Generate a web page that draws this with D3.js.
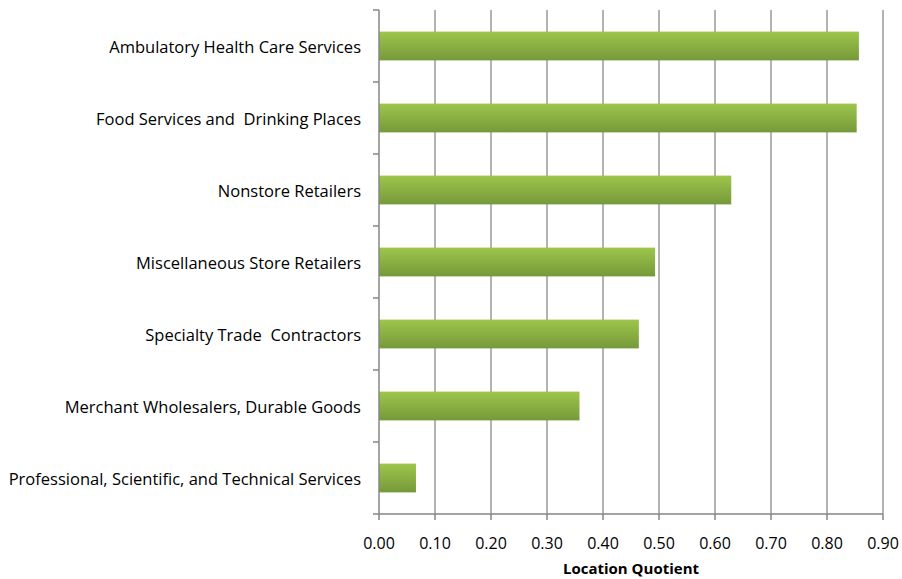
<!DOCTYPE html>
<html>
<head>
<meta charset="utf-8">
<script src="https://cdn.jsdelivr.net/npm/d3@7"></script>
<style>
  body { margin: 0; background: #fff; }
  text { font-family: "Open Sans", Lato, sans-serif; fill: #000; }
</style>
</head>
<body>
<svg id="chart" width="902" height="579"></svg>
<script>
// categories top to bottom
var categories = [
  "Ambulatory Health Care Services",
  "Food Services and  Drinking Places",
  "Nonstore Retailers",
  "Miscellaneous Store Retailers",
  "Specialty Trade  Contractors",
  "Merchant Wholesalers, Durable Goods",
  "Professional, Scientific, and Technical Services"
]
var values = [0.857, 0.853, 0.629, 0.493, 0.464, 0.358, 0.066]
var xTicks = [0, 0.1, 0.2, 0.3, 0.4, 0.5, 0.6, 0.7, 0.8, 0.9]
var xTitle = "Location Quotient"

var svg = d3.select("#chart")
var plotLeft = 379, plotRight = 883, plotTop = 10, plotBottom = 514

var x = d3.scaleLinear().domain([0, 0.9]).range([plotLeft, plotRight])
var y = d3.scaleBand().domain(categories).range([plotTop, plotBottom]).paddingInner(0.6).paddingOuter(0.3)

var defs = svg.append("defs")
var grad = defs.append("linearGradient").attr("id", "barGrad")
  .attr("x1", 0).attr("y1", 0).attr("x2", 0).attr("y2", 1)
grad.append("stop").attr("offset", "0%").attr("stop-color", "#9dc64b")
grad.append("stop").attr("offset", "100%").attr("stop-color", "#76993a")

// vertical gridlines
svg.append("g")
  .selectAll("line")
  .data(xTicks.slice(1))
  .enter().append("line")
  .attr("x1", d => x(d)).attr("x2", d => x(d))
  .attr("y1", plotTop).attr("y2", plotBottom)
  .attr("stroke", "#9a9a9a")
  .attr("stroke-width", 1.5)

// bars
svg.append("g")
  .selectAll("rect")
  .data(categories)
  .enter().append("rect")
  .attr("x", x(0))
  .attr("y", d => y(d))
  .attr("width", (d, i) => x(values[i]) - x(0))
  .attr("height", y.bandwidth())
  .attr("fill", "url(#barGrad)")

// y axis (category boundaries as ticks)
var bandStep = (plotBottom - plotTop) / categories.length
var yAxis = svg.append("g")
yAxis.append("line")
  .attr("x1", plotLeft).attr("x2", plotLeft).attr("y1", plotTop).attr("y2", plotBottom)
  .attr("stroke", "#868686").attr("stroke-width", 1.5)
yAxis.selectAll("line.tick")
  .data(d3.range(categories.length + 1))
  .enter().append("line").attr("class", "tick")
  .attr("x1", plotLeft - 6).attr("x2", plotLeft)
  .attr("y1", i => plotTop + i * bandStep).attr("y2", i => plotTop + i * bandStep)
  .attr("stroke", "#868686").attr("stroke-width", 1.5)
yAxis.selectAll("text")
  .data(categories)
  .enter().append("text")
  .attr("x", 361)
  .attr("y", d => y(d) + y.bandwidth() / 2 + 1)
  .attr("dy", "0.35em")
  .attr("text-anchor", "end")
  .attr("font-size", 16.5)
  .style("white-space", "pre")
  .text(d => d)

// x axis
var xAxis = svg.append("g")
xAxis.append("line")
  .attr("x1", plotLeft).attr("x2", plotRight).attr("y1", plotBottom).attr("y2", plotBottom)
  .attr("stroke", "#868686").attr("stroke-width", 1.5)
xAxis.selectAll("line.tick")
  .data(xTicks)
  .enter().append("line").attr("class", "tick")
  .attr("x1", d => x(d)).attr("x2", d => x(d))
  .attr("y1", plotBottom).attr("y2", plotBottom + 6)
  .attr("stroke", "#868686").attr("stroke-width", 1.5)
xAxis.selectAll("text")
  .data(xTicks)
  .enter().append("text")
  .attr("x", d => x(d))
  .attr("y", 543)
  .attr("dy", "0.35em")
  .attr("text-anchor", "middle")
  .attr("font-size", 16)
  .text(d => d3.format(".2f")(d))

svg.append("text")
  .attr("x", (plotLeft + plotRight) / 2)
  .attr("y", 569)
  .attr("dy", "0.35em")
  .attr("text-anchor", "middle")
  .attr("font-size", 15)
  .attr("font-weight", "bold")
  .text(xTitle)
</script>
</body>
</html>
